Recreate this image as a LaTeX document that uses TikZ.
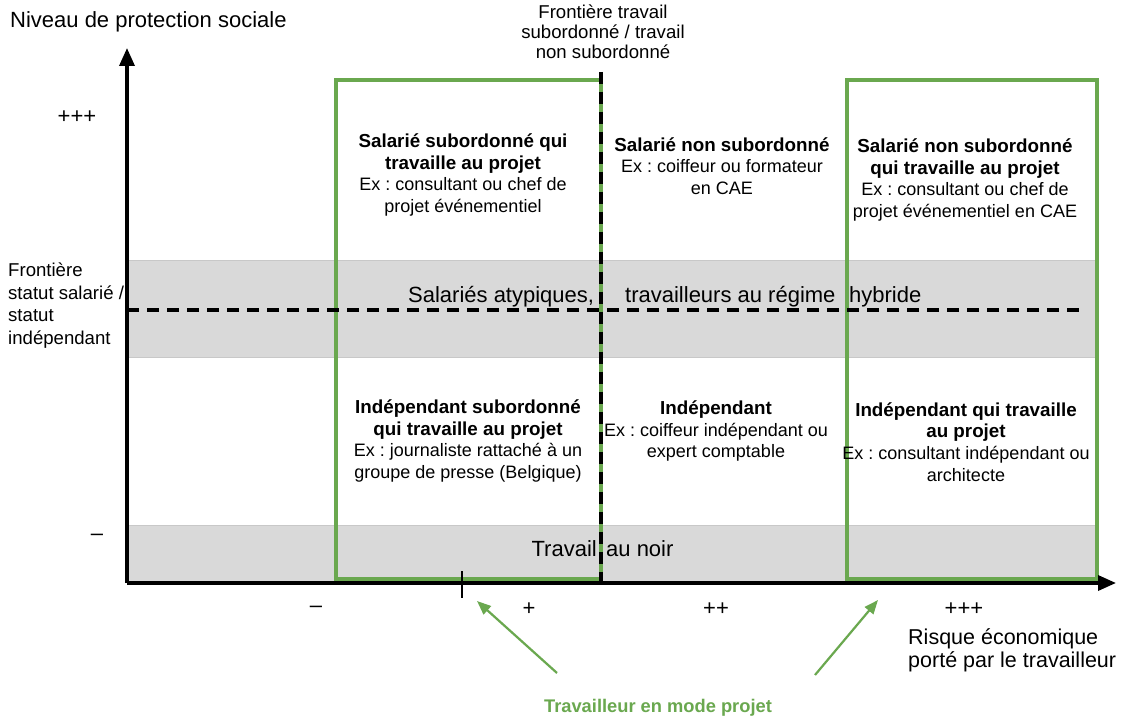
\documentclass[tikz,border=0pt]{standalone}
\usepackage{fontspec}
\setmainfont{Liberation Sans}
\usetikzlibrary{arrows.meta}
\definecolor{pgreen}{RGB}{106,168,79}
\definecolor{bandgray}{RGB}{217,217,217}
\definecolor{bandedge}{RGB}{200,200,200}
\frenchspacing
\begin{document}
\begin{tikzpicture}[x=1pt,y=-1pt,
  boxtxt/.style={align=center, font=\fontsize{18}{21.8}\selectfont, inner sep=0pt},
  sidetxt/.style={align=left, font=\fontsize{18.6}{22.5}\selectfont, inner sep=0pt},
  bigtxt/.style={font=\fontsize{22}{24}\selectfont, inner sep=0pt},
  bandfill/.style={fill=bandgray, draw=bandedge, line width=0.8pt},
  greenbox/.style={draw=pgreen, line width=3.4pt},
  blackdash/.style={draw=black, line width=3.2pt, dash pattern=on 12pt off 8pt},
  axisline/.style={draw=black, line width=3.4pt, -{Triangle[length=18pt,width=15pt]}},
  greenarrow/.style={draw=pgreen, line width=2.2pt, -{Triangle[length=14pt,width=11pt]}}
]
\newcommand{\hd}[1]{{\fontsize{18.8}{21.8}\selectfont\bfseries #1}}
\useasboundingbox (0,0) rectangle (1125,719);
\fill[white] (0,0) rectangle (1125,719);

% left labels (drawn before bands)
\node[sidetxt, anchor=north west] (frontleft) at (8,263) {Frontière\\statut salarié /\\statut\\indépendant};

% gray bands
\path[bandfill] (127,260) rectangle (1095,357);
\path[bandfill] (127,525) rectangle (1095,583);

% green boxes
\path[greenbox] (336,80) rectangle (601,579);
\path[greenbox] (847,80) rectangle (1097,579);

% dashed boundaries
\coordinate (hl) at (127,310);
\coordinate (hr) at (1086,310);
\path[blackdash] (hl) -- (hr);
\coordinate (vt) at (601,72);
\coordinate (vb) at (601,583);
\path[blackdash] (vt) -- (vb);

% axes
\coordinate (origin) at (127,583);
\coordinate (ytop) at (127,48);
\coordinate (xend) at (1116,583);
\path[axisline] (origin) -- (ytop);
\path[axisline] (origin) -- (xend);

% tick
\coordinate (tickt) at (462,571);
\coordinate (tickb) at (462,598);
\draw[line width=1.6pt] (tickt) -- (tickb);

% axis labels
\node[bigtxt, anchor=west] (ylabel) at (10,22) {Niveau de protection sociale};
\node[bigtxt] (yppp) at (77,117) {+++};
\node[bigtxt] (ymin) at (97,537) {–};
\node[bigtxt] (xmin) at (316,609) {–};
\node[bigtxt] (xp) at (529,609) {+};
\node[bigtxt] (xpp) at (716,609) {++};
\node[bigtxt] (xppp) at (964,609) {+++};
\node[align=left, font=\fontsize{21.5}{23}\selectfont, inner sep=0pt, anchor=north west] (xlabel) at (908,628) {Risque économique\\porté par le travailleur};
\node[align=center, font=\fontsize{18.6}{20}\selectfont, inner sep=0pt, anchor=north] (frontv) at (603,5) {Frontière travail\\subordonné / travail\\non subordonné};

% band texts
\node[bigtxt, anchor=west] (atyp1) at (408,297) {Salariés atypiques,};
\node[bigtxt, anchor=west] (atyp2) at (625,297) {travailleurs au régime};
\node[bigtxt, anchor=west] (atyp3) at (849,297) {hybride};
\node[bigtxt, anchor=east] (noir1) at (597,549) {Travail};
\node[bigtxt, anchor=west] (noir2) at (606,549) {au noir};

% box texts
\node[boxtxt] (c11) at (463,175) {\hd{Salarié subordonné qui}\\\hd{travaille au projet}\\Ex : consultant ou chef de\\projet événementiel};
\node[boxtxt] (c12) at (722,166) {\hd{Salarié non subordonné}\\Ex : coiffeur ou formateur\\en CAE};
\node[boxtxt] (c13) at (965,180) {\hd{Salarié non subordonné}\\\hd{qui travaille au projet}\\Ex : consultant ou chef de\\projet événementiel en CAE};
\node[boxtxt] (c21) at (468,441) {\hd{Indépendant subordonné}\\\hd{qui travaille au projet}\\Ex : journaliste rattaché à un\\groupe de presse (Belgique)};
\node[boxtxt] (c22) at (716,431) {\hd{Indépendant}\\Ex : coiffeur indépendant ou\\expert comptable};
\node[boxtxt] (c23) at (966,442) {\hd{Indépendant qui travaille}\\\hd{au projet}\\Ex : consultant indépendant ou\\architecte};

% project worker label and arrows
\node[font=\fontsize{18.3}{22}\selectfont\bfseries, text=pgreen, inner sep=0pt] (proj) at (658,708) {Travailleur en mode projet};
\coordinate (a1s) at (557,673);
\coordinate (a1e) at (477,601);
\coordinate (a2s) at (815,675);
\coordinate (a2e) at (878,600);
\path[greenarrow] (a1s) -- (a1e);
\path[greenarrow] (a2s) -- (a2e);
\end{tikzpicture}
\end{document}
